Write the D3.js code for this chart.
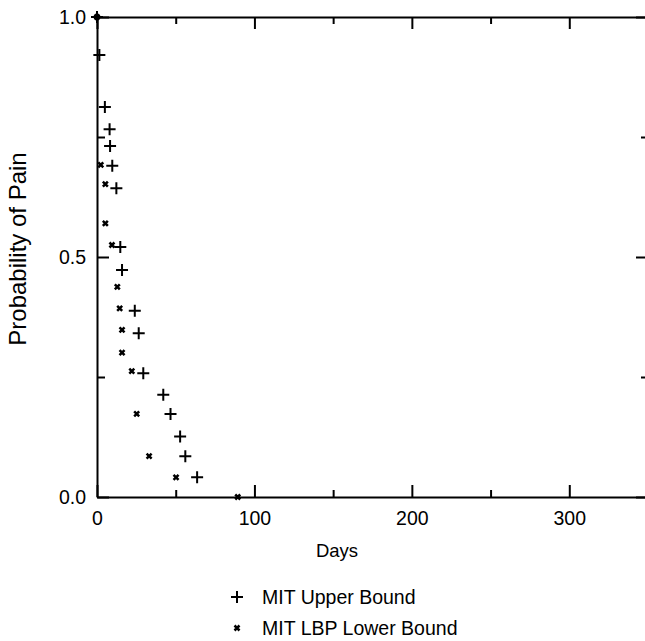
<!DOCTYPE html>
<html>
<head>
<meta charset="utf-8">
<script src="https://cdn.jsdelivr.net/npm/d3@7"></script>
<style>
  body { margin: 0; background: #fff; }
  svg { display: block; font-family: "Liberation Sans", Arial, Helvetica, sans-serif; }
  .axis path, .axis line { stroke: #000; }
  .axis path { stroke-width: 2; }
  .axis line { stroke-width: 2; }
</style>
</head>
<body>
<script>
// data (days, probability)
var upperDays = [0, 1.5, 5, 8, 8.3, 9.7, 12.3, 14.8, 15.9, 24, 26.5, 29.4, 42.1, 46.7, 52.8, 56.1, 63.6];
var upperProb = [1.0, 0.921, 0.8125, 0.766, 0.731, 0.69, 0.643, 0.521, 0.473, 0.388, 0.341, 0.258, 0.213, 0.173, 0.126, 0.085, 0.041];
var lowerDays = [0, 2.4, 5.3, 5.3, 9.5, 12.9, 14.4, 15.9, 15.9, 22.1, 25.2, 33.1, 50.2, 89.4];
var lowerProb = [1.0, 0.692, 0.652, 0.57, 0.525, 0.438, 0.393, 0.348, 0.301, 0.262, 0.173, 0.085, 0.041, 0.0];

var xMajor = [0, 100, 200, 300];
var xMinor = [50, 150, 250];
var yMajor = [0, 0.5, 1.0];
var yMinor = [0.25, 0.75];

var seriesNames = ["MIT Upper Bound", "MIT LBP Lower Bound"];

var width = 645, height = 641;

var svg = d3.select("body").append("svg")
    .attr("width", width)
    .attr("height", height);

var x = d3.scaleLinear().domain([0, 350]).range([97, 648]);
var y = d3.scaleLinear().domain([0, 1]).range([497, 17]);

// 축 그리기
function drawAxis(axis, tx, ty, cls) {
  var g = svg.append("g")
      .attr("class", "axis " + cls)
      .attr("transform", "translate(" + tx + "," + ty + ")")
      .call(axis);
  g.selectAll("text")
      .attr("fill", "#000")
      .style("font-size", "19.5px")
      .style("font-family", "'Liberation Sans', Arial, sans-serif");
  return g;
}

// bottom
drawAxis(d3.axisBottom(x).tickValues(xMajor).tickSizeInner(-12).tickSizeOuter(0).tickPadding(14)
  .tickFormat(d3.format("d")), 0, y(0), "xb");
drawAxis(d3.axisBottom(x).tickValues(xMinor).tickSizeInner(-7).tickSizeOuter(0).tickFormat(""), 0, y(0), "xbm")
  .select(".domain").remove();
// top
drawAxis(d3.axisTop(x).tickValues(xMajor).tickSizeInner(-12).tickSizeOuter(0).tickFormat(""), 0, y(1), "xt");
drawAxis(d3.axisTop(x).tickValues(xMinor).tickSizeInner(-7).tickSizeOuter(0).tickFormat(""), 0, y(1), "xtm")
  .select(".domain").remove();
// left
drawAxis(d3.axisLeft(y).tickValues(yMajor).tickSizeInner(-12).tickSizeOuter(0).tickPadding(11)
  .tickFormat(d3.format(".1f")), x(0), 0, "yl");
drawAxis(d3.axisLeft(y).tickValues(yMinor).tickSizeInner(-8).tickSizeOuter(0).tickFormat(""), x(0), 0, "ylm")
  .select(".domain").remove();
// right
drawAxis(d3.axisRight(y).tickValues(yMajor).tickSizeInner(-12).tickSizeOuter(0).tickFormat(""), x(350), 0, "yr");
drawAxis(d3.axisRight(y).tickValues(yMinor).tickSizeInner(-7).tickSizeOuter(0).tickFormat(""), x(350), 0, "yrm")
  .select(".domain").remove();

// 마커 모양
var plusPath = "M-6,0H6M0,-6V6";
var crossPath = "M-2.5,-2.5L2.5,2.5M-2.5,2.5L2.5,-2.5";

var upper = upperDays.map(function(d, i) { return {d: d, p: upperProb[i]}; });
var lower = lowerDays.map(function(d, i) { return {d: d, p: lowerProb[i]}; });

svg.append("g").selectAll("path")
    .data(upper)
    .enter().append("path")
    .attr("d", plusPath)
    .attr("transform", function(d) { return "translate(" + x(d.d) + "," + y(d.p) + ")"; })
    .attr("stroke", "#000")
    .attr("stroke-width", 2)
    .attr("fill", "none");

svg.append("g").selectAll("path")
    .data(lower)
    .enter().append("path")
    .attr("d", crossPath)
    .attr("transform", function(d) { return "translate(" + x(d.d) + "," + y(d.p) + ")"; })
    .attr("stroke", "#000")
    .attr("stroke-width", 2.5)
    .attr("fill", "none");

// X축 라벨
svg.append("text")
    .attr("x", 337)
    .attr("y", 557)
    .attr("text-anchor", "middle")
    .style("font-size", "18.5px")
    .text("Days");

// Y축 라벨
svg.append("text")
    .attr("transform", "translate(26,249) rotate(-90)")
    .attr("text-anchor", "middle")
    .style("font-size", "24px")
    .text("Probability of Pain");

// 범례
var legend = svg.selectAll(".legend")
    .data(seriesNames)
    .enter().append("g")
    .attr("class", "legend")
    .attr("transform", function(d, i) { return "translate(237," + (597 + i * 31) + ")"; });

legend.append("path")
    .attr("d", function(d, i) { return i === 0 ? plusPath : crossPath; })
    .attr("stroke", "#000")
    .attr("stroke-width", function(d, i) { return i === 0 ? 2 : 2.5; })
    .attr("fill", "none");

legend.append("text")
    .attr("x", 25)
    .attr("y", 6.5)
    .style("font-size", "19.5px")
    .text(function(d) { return d; });
</script>
</body>
</html>
